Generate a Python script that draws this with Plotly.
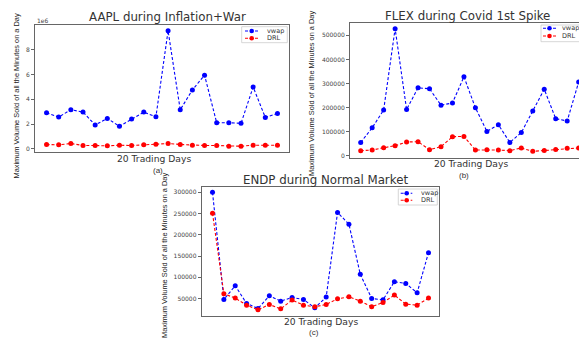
import plotly.graph_objects as go

# ---------------- data ----------------
days = list(range(1, 21))

aapl_vwap_1e6 = [2.91, 2.57, 3.16, 2.97, 1.93, 2.46, 1.82, 2.41, 2.97, 2.59,
                 9.55, 3.16, 4.76, 5.96, 2.11, 2.11, 2.06, 5.00, 2.54, 2.86]
aapl_drl_1e6 = [0.35, 0.32, 0.43, 0.27, 0.27, 0.24, 0.29, 0.27, 0.32, 0.37,
                0.43, 0.35, 0.29, 0.27, 0.27, 0.21, 0.21, 0.29, 0.29, 0.29]

flex_vwap = [55000, 116000, 190000, 528000, 192000, 282000, 278000, 210000, 219000, 328000,
             199000, 101000, 129000, 55000, 96000, 186000, 276000, 154000, 144000, 306000]
flex_drl = [21000, 23500, 33000, 41500, 57000, 58000, 25000, 37500, 79000, 80000,
            23500, 25000, 23500, 21000, 32000, 18000, 22000, 26000, 30500, 32000]

endp_vwap = [300000, 47600, 80000, 38200, 26300, 56300, 43700, 52400, 47600, 27900,
             53200, 252700, 225100, 106800, 50000, 46800, 89400, 85500, 63400, 158000]
endp_drl = [251000, 61000, 50800, 34200, 23200, 35800, 25600, 46100, 34200, 30300,
            35800, 49200, 53900, 43700, 30300, 40500, 57900, 36600, 34200, 50800]

series_names = ["vwap", "DRL"]
titles = ["AAPL during Inflation+War", "FLEX during Covid 1st Spike", "ENDP during Normal Market"]
panel_tags = ["(a)", "(b)", "(c)"]
x_title = "20 Trading Days"
y_title = "Maximum Volume Sold of all the Minutes on a Day"
aapl_ticks = [0, 2, 4, 6, 8]
flex_ticks = [0, 100000, 200000, 300000, 400000, 500000]
endp_ticks = [50000, 100000, 150000, 200000, 250000, 300000]

# ---------------- layout helpers ----------------
W, H = 579, 338
def px(x):
    return x / W
def py(y):
    return 1 - y / H

BLUE, RED = "#0000ff", "#ff0000"
FRAME = "#666666"
TXT = "#333333"
DASH = "3px,2px"

def mpl_range(*arrs):
    vals = [v for a in arrs for v in a]
    lo, hi = min(vals), max(vals)
    m = 0.05 * (hi - lo)
    return [lo - m, hi + m]

fig = go.Figure()

panels = [
    (aapl_vwap_1e6, aapl_drl_1e6, "x", "y"),
    (flex_vwap, flex_drl, "x2", "y2"),
    (endp_vwap, endp_drl, "x3", "y3"),
]
for vw, dr, xa, ya in panels:
    for vals, col, nm in [(vw, BLUE, series_names[0]), (dr, RED, series_names[1])]:
        fig.add_trace(go.Scatter(
            x=days, y=vals, name=nm, mode="lines+markers",
            line=dict(color=col, width=1.1, dash=DASH),
            marker=dict(color=col, size=5),
            showlegend=False, xaxis=xa, yaxis=ya,
        ))

def xax(domain, rng, anchor):
    return dict(domain=domain, range=rng, anchor=anchor, showline=True, mirror=True,
                linecolor=FRAME, linewidth=1, showticklabels=False, ticks="",
                showgrid=False, zeroline=False)

def yax(domain, rng, anchor, tickvals, mirror=True):
    return dict(domain=domain, range=rng, anchor=anchor, showline=True, mirror=mirror,
                linecolor=FRAME, linewidth=1, ticks="outside", ticklen=3, tickwidth=1,
                tickcolor=FRAME, tickvals=tickvals, tickformat="d",
                tickfont=dict(family="DejaVu Sans", size=6, color="#444444"),
                showgrid=False, zeroline=False)

fig.update_layout(
    width=W, height=H,
    margin=dict(l=0, r=0, t=0, b=0, autoexpand=False),
    paper_bgcolor="white", plot_bgcolor="white",
    showlegend=False,
    xaxis=xax([px(35), px(289)], [0.05, 20.95], "y"),
    yaxis=yax([py(152), py(25)], mpl_range(aapl_vwap_1e6, aapl_drl_1e6), "x", aapl_ticks),
    xaxis2=xax([px(350), 1.0], [0.067, 20.03], "y2"),
    yaxis2=yax([py(157.5), py(22.5)], mpl_range(flex_vwap, flex_drl), "x2", flex_ticks, mirror=False),
    xaxis3=xax([px(201.7), px(439.3)], [0.05, 20.95], "y3"),
    yaxis3=yax([py(315.7), py(186.5)], mpl_range(endp_vwap, endp_drl), "x3", endp_ticks),
)

ann = []
def text(x, y, s, size, family="DejaVu Sans", angle=0, xanchor="center", color=TXT):
    ann.append(dict(x=px(x), y=py(y), xref="paper", yref="paper", text=s, showarrow=False,
                    xanchor=xanchor, yanchor="middle", textangle=angle,
                    font=dict(family=family, size=size, color=color)))

# titles
text(167.5, 16.7, titles[0], 11.8)
text(467.7, 15.7, titles[1], 11.8)
text(325, 180, titles[2], 11.8)
# x titles
text(153.7, 158.3, x_title, 9.2)
text(471, 163.3, x_title, 9.2)
text(320.8, 321.7, x_title, 9.2)
# panel tags
text(158, 170.7, panel_tags[0], 8, family="Liberation Sans")
text(464, 175.7, panel_tags[1], 8, family="Liberation Sans")
text(314, 332.5, panel_tags[2], 8, family="Liberation Sans")
# y titles
text(16, 96.5, y_title, 7.4, family="Liberation Sans", angle=-90, color="#222222")
text(312, 94, y_title, 7.4, family="Liberation Sans", angle=-90, color="#222222")
text(164.5, 255.5, y_title, 7.4, family="Liberation Sans", angle=-90, color="#222222")
# exponent
text(35, 21, "1e6", 6, xanchor="left", color="#444444")

shapes = []
def legend(x0, y0, x1, y1, lx0, lx1, mx, ys, tx):
    shapes.append(dict(type="rect", xref="paper", yref="paper",
                       x0=px(x0), x1=px(x1), y0=py(y1), y1=py(y0),
                       line=dict(color="#cccccc", width=0.8), fillcolor="rgba(255,255,255,0.85)"))
    for yy, col, nm in zip(ys, [BLUE, RED], series_names):
        shapes.append(dict(type="line", xref="paper", yref="paper",
                           x0=px(lx0), x1=px(lx1), y0=py(yy), y1=py(yy),
                           line=dict(color=col, width=1.1, dash=DASH)))
        r = 2.3
        shapes.append(dict(type="circle", xref="paper", yref="paper",
                           x0=px(mx - r), x1=px(mx + r), y0=py(yy + r), y1=py(yy - r),
                           fillcolor=col, line=dict(color=col, width=0)))
        text(tx, yy, nm, 6.5, xanchor="left")

legend(241.7, 26.7, 287.3, 42.7, 245, 258.3, 251.7, [31, 38.3], 265)
legend(541, 25, 582, 41.7, 543, 556, 549.5, [28.3, 36], 559.5)
legend(398.3, 189, 437.3, 205, 400.7, 412.3, 406.7, [193.3, 200.3], 418.7)

fig.update_layout(annotations=ann, shapes=shapes)
fig.write_html(
    "out.html",
    config={"displayModeBar": False},
    post_script="document.body.style.margin='0';document.body.style.overflow='hidden';",
)
